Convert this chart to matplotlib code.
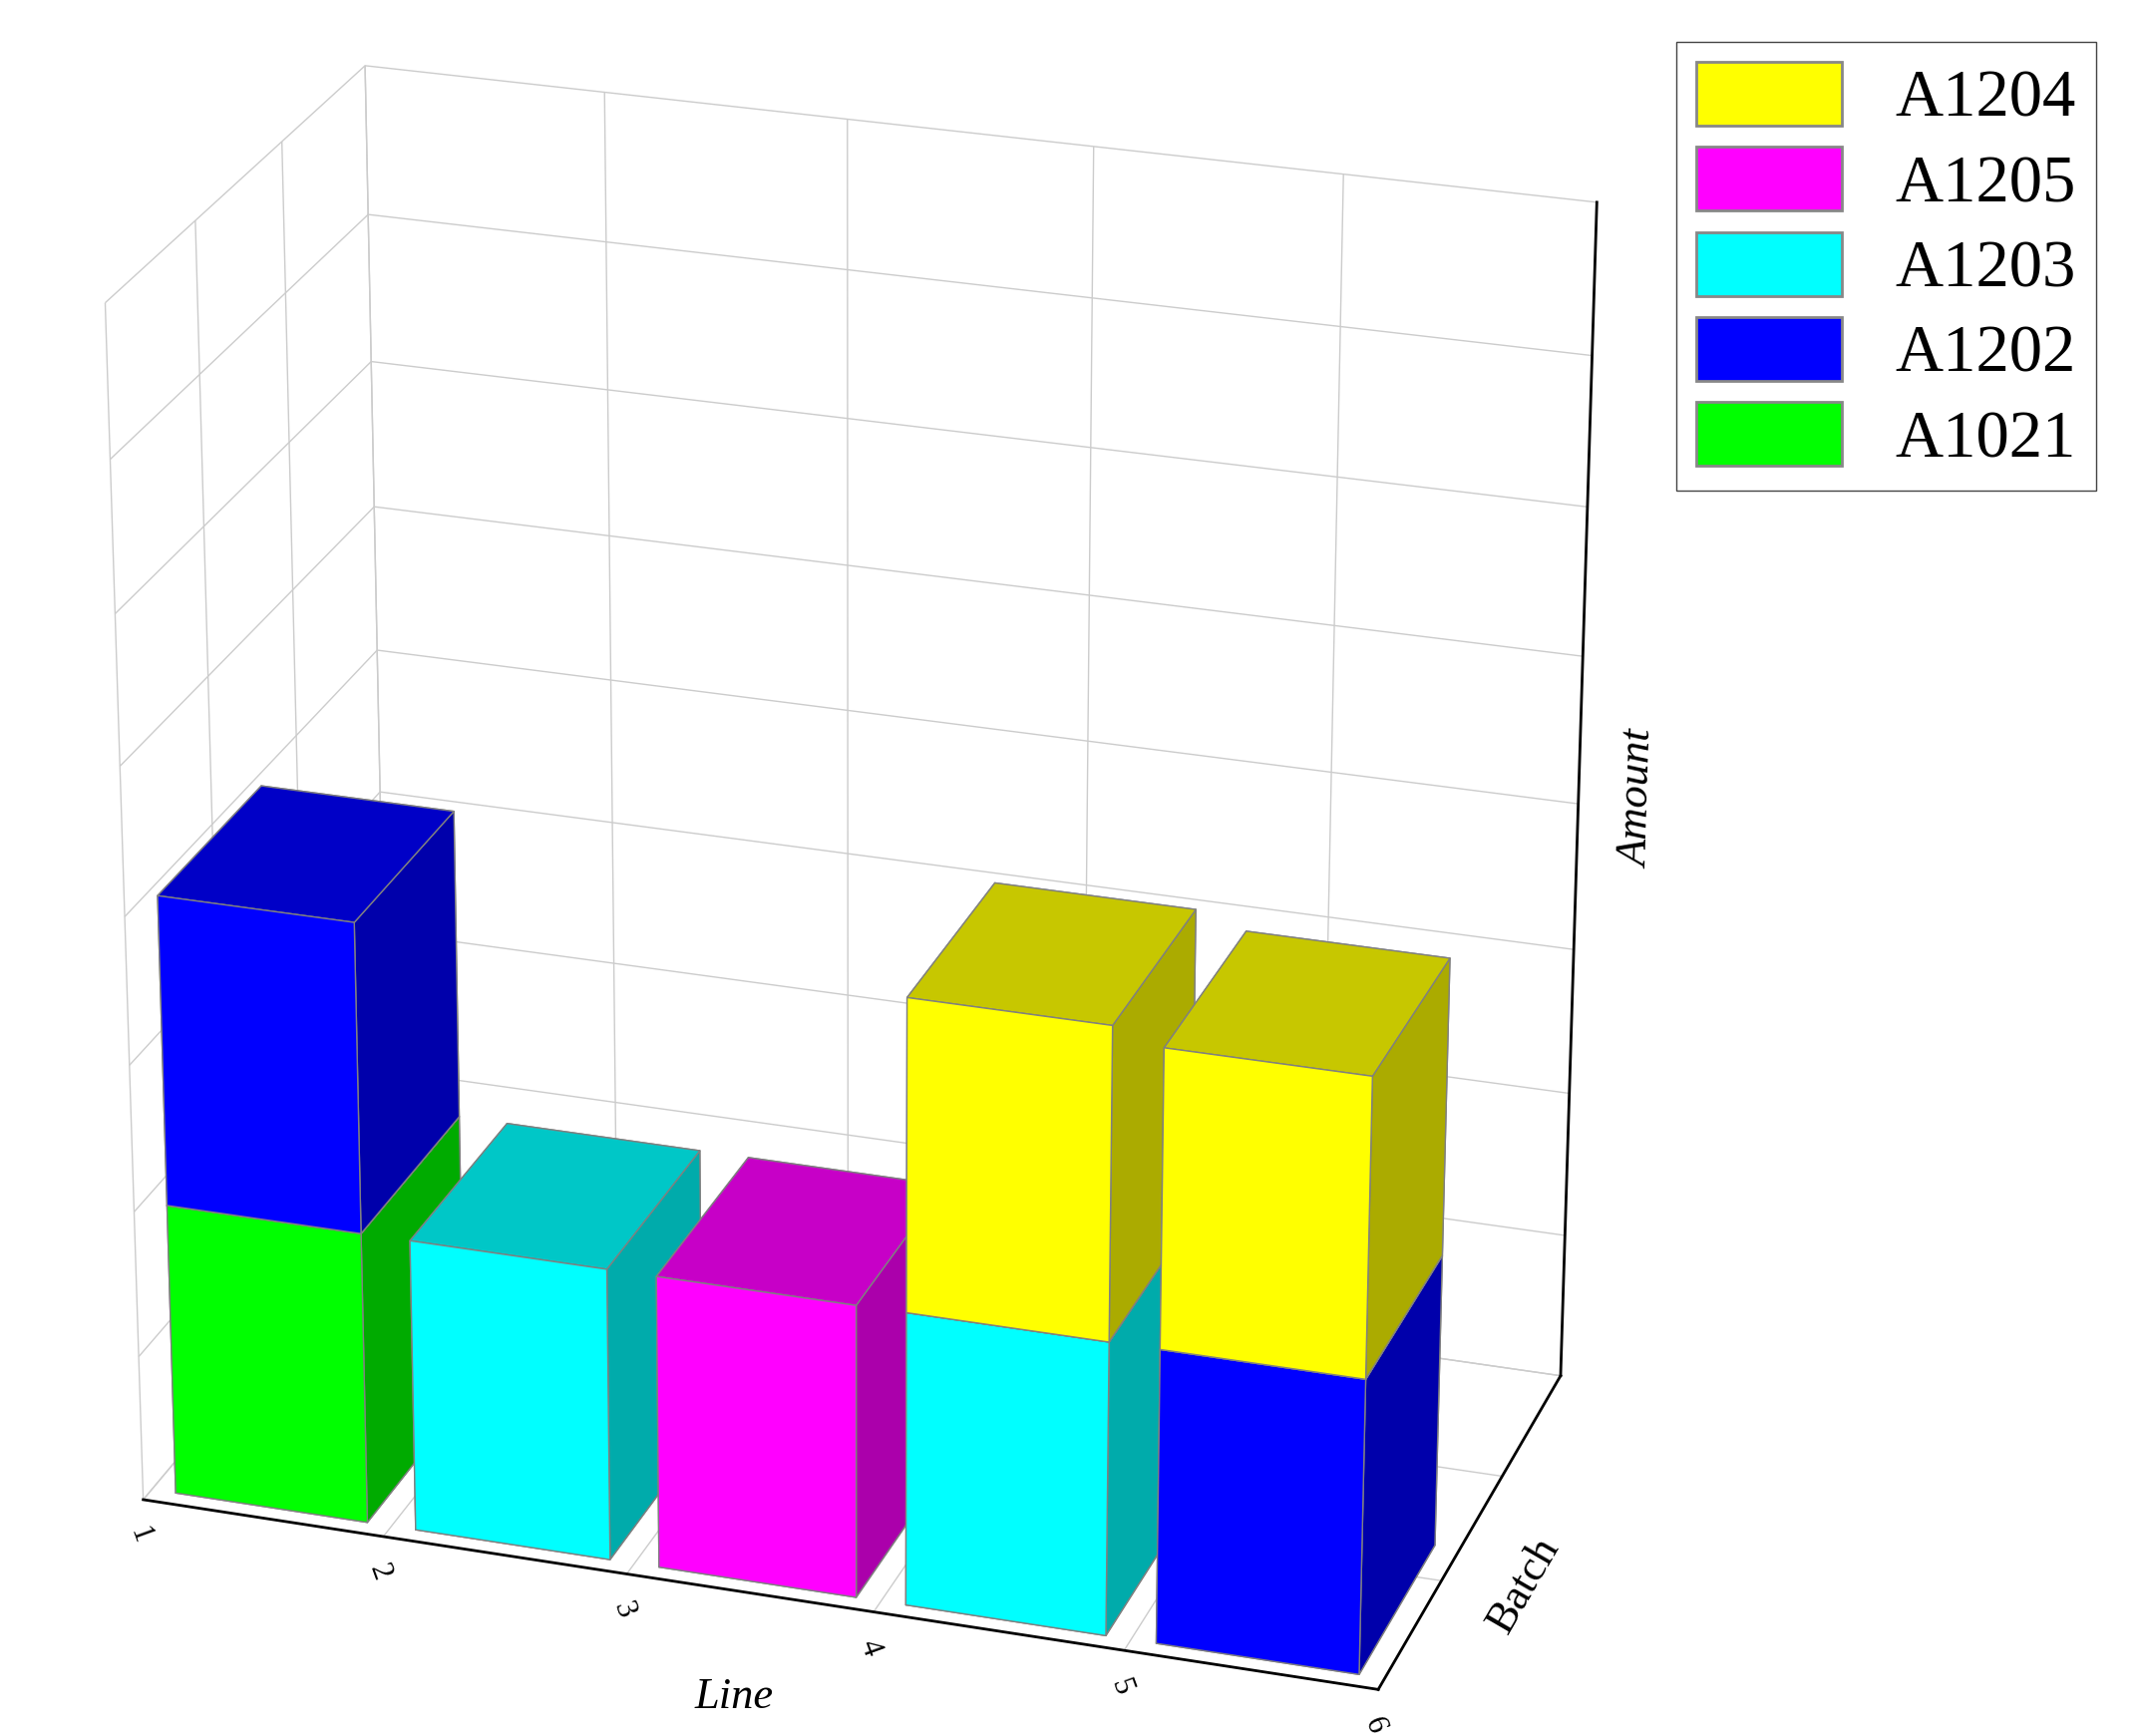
import matplotlib.pyplot as plt
from matplotlib.colors import to_rgb
from matplotlib.patches import Patch

plt.rcParams['font.family'] = ['Liberation Serif', 'DejaVu Serif']

lines = [1, 2, 3, 4, 5]
bottom_vals = [2.0, 2.0, 2.0, 2.0, 2.0]
bottom_colors = ['#00ff00', '#00ffff', '#ff00ff', '#00ffff', '#0000ff']
top_vals = [2.1, 0.0, 0.0, 2.1, 2.0]
top_colors = ['#0000ff', None, None, '#ffff00', '#ffff00']
legend_names = ['A1204', 'A1205', 'A1203', 'A1202', 'A1021']
legend_colors = ['#ffff00', '#ff00ff', '#00ffff', '#0000ff', '#00ff00']
tick_labels = ['1', '2', '3', '4', '5', '6']


def face_colors(c):
    r, g, b = to_rgb(c)
    top = (r * 0.78, g * 0.78, b * 0.78)
    side = (r * 0.67, g * 0.67, b * 0.67)
    # bottom, top, front(-y), back(+y), left(-x), right(+x)
    return [side, top, (r, g, b), side, side, side]


fig = plt.figure(figsize=(21.46, 17.41), dpi=100)
ax = fig.add_axes([-0.06, -0.06, 0.9, 1.1], projection='3d')
ax.view_init(elev=24, azim=-72)
ax.set_box_aspect((1.0, 0.55, 1.0))

w, d = 0.8, 0.6
for x, b, bc, t, tc in zip(lines, bottom_vals, bottom_colors, top_vals, top_colors):
    ax.bar3d(x + 0.1, 0.05, 0, w, d, b, color=face_colors(bc), edgecolor='#808080', linewidth=1.0, shade=False)
    if t > 0:
        ax.bar3d(x + 0.1, 0.05, b, w, d, t, color=face_colors(tc), edgecolor='#808080', linewidth=1.0, shade=False)

ax.set_xlim(1, 6)
ax.set_ylim(0, 1.5)
ax.set_zlim(0, 8)
ax.set_xticks(range(1, 7))
ax.set_xticklabels(tick_labels, fontsize=22, rotation=-70)
ax.set_yticks([0, 0.5, 1.0, 1.5])
ax.set_yticklabels([])
ax.set_zticks(range(0, 9))
ax.set_zticklabels([])
ax.set_xlabel('Line', fontsize=32, style='italic', labelpad=30)
ax.set_ylabel('Batch', fontsize=32, labelpad=10)
ax.set_zlabel('Amount', fontsize=32, style='italic', labelpad=10)
for axis in (ax.xaxis, ax.yaxis, ax.zaxis):
    axis.set_pane_color((1, 1, 1, 1))
    axis._axinfo['grid']['color'] = '#cccccc'
    axis._axinfo['grid']['linewidth'] = 1.0
    axis._axinfo['tick']['inward_factor'] = 0.0
    axis._axinfo['tick']['outward_factor'] = 0.0
    axis.line.set_color('black')
    axis.line.set_linewidth(2)

handles = [Patch(facecolor=c, edgecolor='#888888', linewidth=2) for c in legend_colors]
fig.legend(handles, legend_names, loc='upper right', bbox_to_anchor=(0.995, 0.995),
           fontsize=48, fancybox=False, edgecolor='#444444', handlelength=2.2,
           handleheight=1.1, borderpad=0.3, labelspacing=0.25, framealpha=1)

fig.savefig('out.png', dpi=100)
